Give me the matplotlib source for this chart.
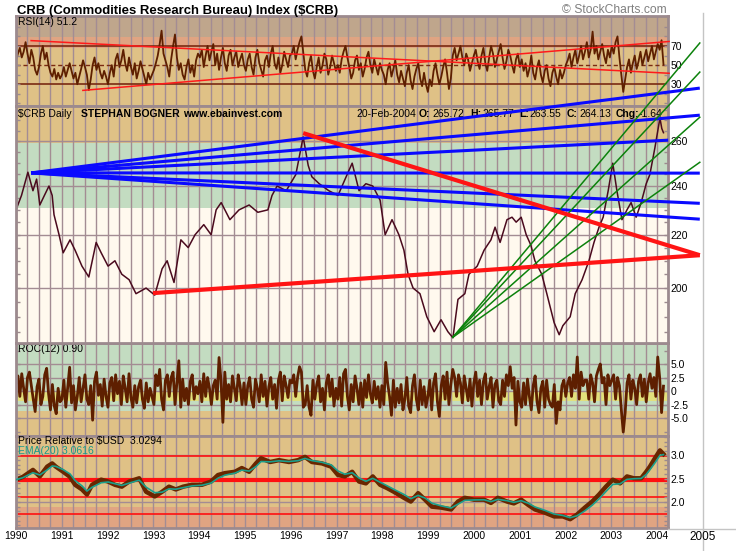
import numpy as np
import pandas as pd
import matplotlib
matplotlib.use("Agg")
import matplotlib.pyplot as plt
from matplotlib.ticker import NullFormatter, FixedLocator
from matplotlib.lines import Line2D
from matplotlib import font_manager as fm

# ---------------------------------------------------------------- data
crb_dates = [1990.00, 1990.12, 1990.26, 1990.37, 1990.45, 1990.52, 1990.62, 1990.72, 1990.79,
             1990.83, 1990.94, 1991.03, 1991.18, 1991.29, 1991.44, 1991.59, 1991.75, 1991.86,
             1992.01, 1992.16, 1992.31, 1992.47, 1992.62, 1992.84, 1993.03, 1993.19, 1993.30,
             1993.45, 1993.60, 1993.76, 1993.91, 1994.10, 1994.26, 1994.37, 1994.48, 1994.67,
             1994.87, 1995.09, 1995.28, 1995.50, 1995.59, 1995.70, 1995.90, 1996.11, 1996.27,
             1996.38, 1996.46, 1996.62, 1996.83, 1997.03, 1997.23, 1997.34, 1997.49, 1997.64,
             1997.79, 1997.95, 1998.06, 1998.21, 1998.36, 1998.47, 1998.56, 1998.67, 1998.82,
             1998.97, 1999.13, 1999.28, 1999.43, 1999.54, 1999.65, 1999.80, 1999.89, 2000.07,
             2000.22, 2000.37, 2000.46, 2000.57, 2000.72, 2000.83, 2000.92, 2001.03, 2001.14,
             2001.24, 2001.33, 2001.48, 2001.59, 2001.75, 2001.86, 2001.94, 2002.10, 2002.21,
             2002.36, 2002.51, 2002.62, 2002.73, 2002.82, 2002.93, 2003.03, 2003.12, 2003.23,
             2003.34, 2003.43, 2003.54, 2003.65, 2003.76, 2003.84, 2003.95, 2004.06, 2004.10,
             2004.137]
crb_prices = [230, 236, 246, 238, 243, 232, 236, 240, 236,
              228, 220, 213, 218, 214, 208, 204, 217, 213,
              208, 210, 205, 203, 198, 200, 197.5, 207, 210,
              202, 218, 215, 220, 224, 220, 230, 233, 226,
              230, 232, 229, 230, 236, 240, 238, 245, 262,
              249, 244, 241, 238, 236, 245, 250, 238, 241,
              240, 234, 220, 226, 220, 214, 205, 200, 198,
              190, 185, 189, 185, 183, 196, 198, 205, 208,
              214, 218, 223, 217, 226, 227, 225, 227, 220,
              216, 210, 205, 198, 188, 184, 187, 190, 198,
              203, 210, 217, 223, 227, 238, 250, 238, 226,
              230, 233, 227, 233, 241, 245, 257, 271, 266,
              264]

rsi_values = [
    55, 62, 68, 58, 64, 74, 62, 52, 66, 58, 45, 40, 48, 62, 70, 56, 63, 50, 42, 38, 46, 35, 42, 36,
    40, 48, 38, 45, 52, 44, 36, 42, 30, 38, 46, 55, 48, 40, 24, 35, 50, 58, 45, 52, 42, 36, 44, 38,
    30, 42, 50, 38, 56, 62, 48, 55, 66, 52, 44, 58, 48, 40, 52, 36, 44, 54, 46, 38, 30, 42, 35, 40,
    45, 52, 60, 72, 86, 62, 55, 48, 38, 56, 70, 82, 58, 45, 52, 40, 35, 48, 56, 42, 50, 38, 55, 62,
    58, 66, 48, 60, 70, 55, 64, 72, 50, 62, 45, 58, 68, 52, 44, 60, 66, 50, 58, 64, 48, 56, 62, 50,
    44, 56, 62, 48, 40, 58, 66, 52, 45, 38, 55, 60, 48, 62, 70, 52, 46, 58, 42, 50, 64, 56, 48, 60,
    62, 70, 56, 66, 74, 80, 62, 45, 38, 52, 60, 44, 36, 48, 58, 42, 50, 62, 56, 40, 48, 60, 52, 44,
    50, 42, 56, 64, 70, 58, 48, 36, 42, 55, 60, 45, 52, 38, 46, 58, 64, 50, 42, 56, 48, 40, 52, 45,
    40, 30, 45, 52, 38, 46, 55, 40, 32, 44, 36, 28, 42, 50, 34, 25, 38, 46, 52, 36, 28, 42, 30, 22,
    35, 28, 44, 52, 40, 30, 38, 48, 56, 42, 25, 36, 60, 68, 55, 62, 70, 58, 50, 62, 56, 44, 52, 60,
    66, 54, 46, 60, 68, 52, 44, 58, 70, 62, 48, 56, 64, 72, 58, 46, 54, 66, 60, 50, 42, 56, 62, 48,
    56, 44, 52, 38, 46, 60, 42, 35, 48, 55, 40, 32, 44, 50, 36, 28, 42, 48, 38, 30, 45, 36, 42, 50,
    55, 62, 48, 58, 66, 52, 60, 70, 56, 64, 74, 58, 66, 85, 62, 70, 56, 64, 72, 60, 52, 66, 58, 70,
    62, 74, 80, 58, 40, 22, 35, 48, 56, 42, 52, 60, 46, 54, 64, 50, 58, 66, 54, 62, 70, 56, 64, 72,
    66, 76, 51]

roc_values = [
    1.5, 2.8, -1.0, 3.2, 0.5, -2.0, 2.5, 3.5, 1.0, -1.5, -3.8, 0.8, 2.2, -2.5, -1.0, 3.0, 4.2, -0.5, -3.5, 1.2, -2.8, -4.2, 0.5, -2.0,
    -1.5, 2.0, -3.0, 0.8, 4.4, -2.2, 1.0, -3.5, -1.0, 2.5, -2.0, 0.5, 3.0, -1.5, -2.5, 1.0, -5.4, 1.8, 3.5, -0.8, 1.2, -2.8, 2.2, -1.0,
    -3.0, 1.5, 2.5, -1.8, 3.0, -0.5, 1.8, -2.5, 2.8, 0.5, -2.0, 3.2, -1.2, -3.0, 1.0, -2.2, 0.8, 2.0, -1.5, -3.2, 1.5, -2.0, 0.5, -1.0,
    -2.5, 3.0, 1.0, 4.0, -1.5, -3.5, 2.0, 3.0, -1.0, 2.5, 3.5, -2.5, 1.5, 5.6, -3.0, 2.2, -1.8, 0.5, -2.5, 1.8, 3.0, -1.5, 0.8, -0.5,
    1.8, -2.0, 3.2, -1.0, 2.5, 0.5, -2.5, 1.0, 2.0, -1.5, 6.2, 2.0, -5.8, 3.5, -1.5, 1.2, -2.0, 2.8, 0.5, -1.8, 3.0, 1.0, -2.5, 1.5,
    -2.5, 1.0, 2.5, -1.5, -3.0, 2.2, 0.5, -2.0, 3.0, -1.0, 1.8, -2.8, 0.8, 2.5, -1.5, 1.2, -3.2, 2.0, 3.5, -1.8, 2.8, 1.0, -1.2, 2.0,
    1.5, 3.0, -1.0, 2.5, 4.5, 3.5, -3.0, -2.5, 1.0, -3.0, -4.5, 2.0, -1.5, 1.2, 2.8, -2.0, 0.5, -3.5, 1.5, 3.0, -1.0, 2.2, -2.8, 0.5,
    -1.5, 2.5, -2.8, 3.2, 4.0, -1.0, -3.5, 1.2, -2.0, 2.8, 0.5, -2.5, 1.5, -3.0, 2.0, -1.2, 3.0, -0.5, -2.2, 1.8, -1.5, 0.8, -3.0, 1.0,
    -2.5, 5.3, 1.5, -1.0, -4.5, 2.0, -3.0, 0.5, -2.2, 1.2, -3.5, -1.5, 2.5, -2.8, -4.0, 1.0, 3.0, -1.5, -3.5, 2.0, -2.5, 0.8, -3.0, -1.0,
    2.0, -3.5, 1.5, 3.2, -2.0, -4.7, 1.0, 2.8, -1.5, 3.5, -2.5, 1.2, 4.0, 2.5, -1.0, 3.0, 1.5, -2.2, 2.8, 0.5, -1.8, 2.2, -2.8, 1.5,
    3.5, -1.0, 2.0, -2.5, 1.8, 3.2, -1.5, 0.8, 2.5, -3.0, 1.2, 2.0, -1.8, -2.5, 2.0, -1.0, 3.0, 1.0, 4.5, 0.5, 2.5, -6.3, 1.8, -2.0,
    -3.0, 1.5, -2.5, 2.2, -1.0, -3.5, 1.0, 2.8, -2.0, -4.0, 0.5, 1.8, -3.0, 2.0, -1.5, -2.5, -3.0, 1.2, -6.0, -2.0, -3.5, 1.0, 2.0, -1.0,
    1.5, 2.5, -1.0, 3.0, 0.5, 6.3, -1.5, 3.5, 1.0, 2.0, 2.0, -1.5, 3.0, 1.5, -2.0, 2.8, 4.0, 5.0, 1.5, 2.5, -2.5, 3.0, 1.0, 2.0,
    3.0, -1.5, 2.5, 1.0, -3.5, -7.6, -4.0, 1.5, 3.0, -1.5, 2.0, 0.5, -2.5, 1.8, 3.0, -1.0, 2.2, -2.0, 1.5, 3.2, 0.5, 2.5, -1.0, 6.3,
    2.5, -4.0, 0.9]

pr_dates = [1990.00, 1990.15, 1990.37, 1990.52, 1990.68, 1990.79, 1990.87, 1991.03, 1991.18, 1991.29,
            1991.44, 1991.55, 1991.66, 1991.86, 1992.01, 1992.16, 1992.31, 1992.47, 1992.69, 1992.84,
            1993.03, 1993.19, 1993.34, 1993.49, 1993.65, 1993.84, 1994.06, 1994.26, 1994.41, 1994.56,
            1994.78, 1994.93, 1995.09, 1995.24, 1995.35, 1995.55, 1995.74, 1995.96, 1996.16, 1996.31,
            1996.46, 1996.68, 1996.88, 1997.03, 1997.18, 1997.34, 1997.49, 1997.64, 1997.79, 1997.95,
            1998.10, 1998.25, 1998.47, 1998.62, 1998.78, 1998.93, 1999.08, 1999.28, 1999.50, 1999.65,
            1999.80, 2000.00, 2000.22, 2000.37, 2000.52, 2000.72, 2000.87, 2001.03, 2001.18, 2001.33,
            2001.55, 2001.75, 2001.94, 2002.10, 2002.25, 2002.42, 2002.58, 2002.73, 2002.88, 2003.03,
            2003.19, 2003.34, 2003.49, 2003.65, 2003.76, 2003.84, 2003.95, 2004.06, 2004.137]
pr_values = [2.48, 2.54, 2.69, 2.55, 2.76, 2.83, 2.76, 2.65, 2.54, 2.37,
             2.27, 2.16, 2.37, 2.48, 2.44, 2.37, 2.33, 2.44, 2.51, 2.22,
             2.12, 2.22, 2.33, 2.27, 2.33, 2.37, 2.37, 2.44, 2.58, 2.62,
             2.65, 2.73, 2.65, 2.83, 2.94, 2.86, 2.90, 2.86, 2.90, 2.97,
             2.86, 2.83, 2.76, 2.58, 2.55, 2.65, 2.44, 2.40, 2.55, 2.37,
             2.30, 2.22, 2.09, 2.01, 2.19, 2.05, 1.90, 1.88, 1.84, 2.01,
             2.09, 2.05, 2.05, 1.98, 2.09, 2.01, 1.97, 2.05, 1.94, 1.84,
             1.77, 1.69, 1.69, 1.63, 1.73, 1.88, 2.01, 2.16, 2.33, 2.48,
             2.40, 2.55, 2.51, 2.51, 2.65, 2.76, 2.94, 3.11, 3.03]

year_labels = [str(y) for y in range(1990, 2005)]
first_date, last_date = 1990.0, 2004.137

rsi_levels = [70, 50, 30]
rsi_trend_x = [[1990.33, 2004.26], [1991.46, 2004.26]]
rsi_trend_y = [[75.6, 41.5], [23.6, 74.7]]

blue_pivot = (1990.33, 245.7)
blue_end_x = [2004.93, 2004.93, 2004.24, 2004.93, 2004.93, 2004.93]
blue_end_y = [285.9, 272.4, 260.5, 245.6, 232.7, 226.2]
green_pivot = (1999.54, 183.2)
green_end_x = [2004.93, 2004.93, 2004.93, 2004.93]
green_end_y = [309.9, 294.2, 271.4, 250.4]
red_x = [[1996.27, 2004.93], [1992.99, 2004.93]]
red_y = [[263.8, 212.1], [198.2, 212.1]]

pr_levels = [2.99, 2.48, 2.10, 1.74]
pr_level_widths = [1.2, 3.0, 1.2, 1.2]

# ---------------------------------------------------------------- style
names = {f.name for f in fm.fontManager.ttflist}
SANS = 'Liberation Sans' if 'Liberation Sans' in names else 'DejaVu Sans'
NARROW = 'Liberation Sans Narrow' if 'Liberation Sans Narrow' in names else SANS
plt.rcParams['font.family'] = [SANS, 'DejaVu Sans']

TAN = '#dfc186'
RSI_TOP = '#bfa68c'
SALMON = '#e0a482'
GREEN = '#c3dcc1'
CREAM = '#fff9ee'
YELLOW = '#e2e07c'
GRID = '#a38c93'
FRAME = '#9c8a8e'
OSC = '#5e1f00'

W, H = 736, 551
fig = plt.figure(figsize=(W / 100, H / 100), dpi=100)
fig.patch.set_facecolor('white')
X0, X1 = 16, 668
PPY = 45.8
XMIN = first_date
XMAX = XMIN + (X1 - X0) / PPY
quarters = np.arange(1990.0, XMAX, 0.25)


def panel(top, bot, z):
    ax = fig.add_axes([X0 / W, 1 - bot / H, (X1 - X0) / W, (bot - top) / H], zorder=z)
    ax.set_xlim(XMIN, XMAX)
    for s in ax.spines.values():
        s.set_color(FRAME)
        s.set_linewidth(2)
    ax.tick_params(axis='y', which='both', direction='in', color=FRAME, length=3, width=1,
                   left=True, right=True, labelleft=False, labelright=True,
                   labelsize=7.5, pad=2)
    ax.tick_params(axis='x', which='both', length=0, labelbottom=False)
    for q in quarters:
        ax.axvline(q, color=GRID, lw=1, zorder=0.6)
    return ax


def hline(ax, v, **kw):
    ax.axhline(v, **kw)


# ---------------- RSI
ax_r = panel(16, 106, 1)
ax_r.set_ylim(7.3, 101.3)
ax_r.set_facecolor(TAN)
ax_r.axhspan(79.1, 101.3, color=RSI_TOP, lw=0, zorder=0.1)
ax_r.axhspan(67.6, 79.1, color=SALMON, lw=0, zorder=0.1)
ax_r.set_yticks(rsi_levels)
ax_r.set_yticklabels([str(v) for v in rsi_levels])
ax_r.yaxis.set_minor_locator(FixedLocator([10, 20, 40, 60, 80, 90]))
ax_r.axhline(70, color='#7a2a12', lw=1.2, zorder=0.8)
ax_r.axhline(30, color='#7a2a12', lw=1.2, zorder=0.8)
ax_r.axhline(50, color='#7a2a12', lw=1.0, ls=(0, (3, 2)), zorder=0.8)
rsi_dates = np.linspace(first_date, last_date, len(rsi_values))
ax_r.plot(rsi_dates, rsi_values, color=OSC, lw=1.3, zorder=2)
for xs, ys in zip(rsi_trend_x, rsi_trend_y):
    ax_r.plot(xs, ys, color='#ff1a1a', lw=1.1, zorder=3, clip_on=False)
ax_r.text(18 / W, 1 - 22 / H, 'RSI(14) 51.2', transform=fig.transFigure,
          fontsize=7.5, va='center', ha='left', zorder=5)

# ---------------- Main price panel
ax_m = panel(106, 343, 3)
ax_m.set_yscale('log')
ax_m.set_ylim(181.3, 276.9)
ax_m.set_xlim(XMIN, XMAX)
ax_m.set_facecolor(CREAM)
ax_m.axhspan(230.7, 259.1, color=GREEN, lw=0, zorder=0.1)
ax_m.axhspan(259.1, 276.9, color=TAN, lw=0, zorder=0.1)
main_ticks = [200, 220, 240, 260]
ax_m.yaxis.set_major_locator(FixedLocator(main_ticks))
ax_m.set_yticklabels([str(v) for v in main_ticks])
ax_m.yaxis.set_minor_locator(FixedLocator([185, 190, 195, 205, 210, 215, 225, 230, 235,
                                           245, 250, 255, 265, 270, 275]))
ax_m.yaxis.set_minor_formatter(NullFormatter())
for v in main_ticks:
    ax_m.axhline(v, color=GRID, lw=1, zorder=0.6)
ax_m.plot(crb_dates, crb_prices, color='#4a0a1e', lw=1.1, zorder=2)

for ex, ey in zip(blue_end_x, blue_end_y):
    ax_m.plot([blue_pivot[0], ex], [blue_pivot[1], ey], color='#0a0aff', lw=2.2,
              zorder=6, clip_on=False, solid_capstyle='butt')
for ex, ey in zip(green_end_x, green_end_y):
    ax_m.plot([green_pivot[0], ex], [green_pivot[1], ey], color='#0c820c', lw=1.1,
              zorder=6, clip_on=False)
for xs, ys in zip(red_x, red_y):
    ax_m.plot(xs, ys, color='#ff1414', lw=3.0, zorder=7, clip_on=False,
              solid_capstyle='butt')

header = [
    (18, '$CRB Daily', 'normal'),
    (81, 'STEPHAN BOGNER', 'bold'),
    (183, 'www.ebainvest.com', 'bold'),
    (356, '20-Feb-2004', 'normal'),
    (419, 'O:', 'bold'), (432, '265.72', 'normal'),
    (470, 'H:', 'bold'), (482, '265.77', 'normal'),
    (519, 'L:', 'bold'), (529, '263.55', 'normal'),
    (567, 'C:', 'bold'), (579, '264.13', 'normal'),
    (616, 'Chg:', 'bold'), (639, '-1.64', 'normal'),
]
for px, s, w in header:
    ax_m.text(px / W, 1 - 114 / H, s, transform=fig.transFigure, fontsize=7.5,
              fontweight=w, va='center', ha='left', zorder=4)

# ---------------- ROC
ax_c = panel(343, 436, 1)
ax_c.set_ylim(-8.33, 8.89)
ax_c.set_facecolor(TAN)
ax_c.axhspan(0, 8.89, color=GREEN, lw=0, zorder=0.1)
ax_c.axhspan(-1.85, 0, color=YELLOW, lw=0, zorder=0.1)
ax_c.axhspan(-3.7, -1.85, color=GREEN, lw=0, zorder=0.1)
roc_ticks = [5.0, 2.5, 0.0, -2.5, -5.0]
ax_c.set_yticks(roc_ticks)
ax_c.set_yticklabels(['5.0', '2.5', '0', '-2.5', '-5.0'])
ax_c.yaxis.set_minor_locator(FixedLocator([-7.5, 7.5]))
for v in roc_ticks:
    ax_c.axhline(v, color=GRID, lw=1, zorder=0.6)
roc_dates = np.linspace(first_date, last_date, len(roc_values))
ax_c.plot(roc_dates, roc_values, color=OSC, lw=2.0, zorder=2)
ax_c.text(18 / W, 1 - 349 / H, 'ROC(12) 0.90', transform=fig.transFigure,
          fontsize=7.5, va='center', ha='left', zorder=5)

# ---------------- Price relative
ax_p = panel(436, 528, 1)
ax_p.set_ylim(1.441, 3.419)
ax_p.set_facecolor(TAN)
ax_p.axhspan(1.441, 1.892, color=SALMON, lw=0, zorder=0.1)
pr_ticks = [3.0, 2.5, 2.0]
ax_p.set_yticks(pr_ticks)
ax_p.set_yticklabels(['3.0', '2.5', '2.0'])
ax_p.yaxis.set_minor_locator(FixedLocator(np.round(np.arange(1.5, 3.41, 0.1), 2)))
for v in pr_ticks:
    ax_p.axhline(v, color=GRID, lw=1, zorder=0.6)
for v, lw in zip(pr_levels, pr_level_widths):
    ax_p.axhline(v, color='#ff1010', lw=lw, zorder=0.9)
pr_series = pd.Series(pr_values, index=pr_dates)
pr_ema = pr_series.ewm(alpha=0.6).mean()
ax_p.plot(pr_series.index, pr_series.values, color='#6a2600', lw=3.2, zorder=2)
ax_p.plot(pr_ema.index, pr_ema.values, color='#1aa08c', lw=1.2, zorder=3)
ax_p.text(18 / W, 1 - 441 / H, 'Price Relative to $USD  3.0294', transform=fig.transFigure,
          fontsize=7.5, va='center', ha='left', zorder=5)
ax_p.text(18 / W, 1 - 451 / H, 'EMA(20) 3.0616', transform=fig.transFigure,
          fontsize=7.5, va='center', ha='left', color='#1a9a8a', zorder=5)
ax_p.set_xticks(range(1990, 2005))
ax_p.set_xticklabels(year_labels)
ax_p.tick_params(axis='x', which='both', length=0, labelbottom=True, labelsize=7.5, pad=2)

# ---------------- frame lines and texts outside panels
fig.add_artist(Line2D([703 / W, 703 / W], [1 - 13 / H, 0], color='#c4c4c4', lw=1))
fig.add_artist(Line2D([X1 / W, 1], [1 - 529 / H, 1 - 529 / H], color='#c4c4c4', lw=1))
fig.text(703 / W, 1 - 537 / H, '2005', ha='center', va='center', fontsize=8.5)

renderer = fig.canvas.get_renderer()


def fit_width(t, target_px):
    w = t.get_window_extent(renderer=renderer).width
    t.set_fontsize(t.get_fontsize() * target_px / w)


title = fig.text(17 / W, 1 - 14 / H, 'CRB (Commodities Research Bureau) Index ($CRB)',
                 family=[NARROW, 'DejaVu Sans'], fontweight='bold', fontsize=11,
                 ha='left', va='baseline')
fit_width(title, 322)
sc = fig.text(667 / W, 1 - 13 / H, '\u00a9 StockCharts.com', color='#808080', fontsize=9,
              ha='right', va='baseline')
fit_width(sc, 105)

fig.savefig('out.png', dpi=100, facecolor='white')
